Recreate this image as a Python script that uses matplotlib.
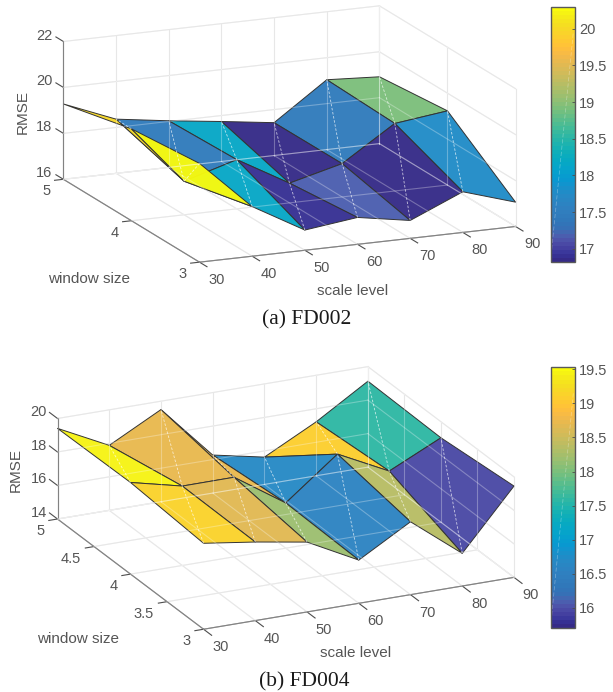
import numpy as np
import matplotlib
matplotlib.use('Agg')
import matplotlib.pyplot as plt
from matplotlib.cm import ScalarMappable
from matplotlib.colors import ListedColormap, Normalize
from mpl_toolkits.mplot3d import proj3d

W, H = 613, 692

parula_rgb = np.array([
    [0.2081, 0.1663, 0.5292], [0.2116, 0.1898, 0.5777], [0.2123, 0.2138, 0.6270], [0.2081, 0.2386, 0.6771],
    [0.1959, 0.2645, 0.7279], [0.1707, 0.2919, 0.7792], [0.1253, 0.3242, 0.8303], [0.0591, 0.3598, 0.8683],
    [0.0117, 0.3875, 0.8820], [0.0060, 0.4086, 0.8828], [0.0165, 0.4266, 0.8786], [0.0329, 0.4430, 0.8720],
    [0.0498, 0.4586, 0.8641], [0.0629, 0.4737, 0.8554], [0.0723, 0.4887, 0.8467], [0.0779, 0.5040, 0.8384],
    [0.0793, 0.5200, 0.8312], [0.0749, 0.5375, 0.8263], [0.0641, 0.5570, 0.8240], [0.0488, 0.5772, 0.8228],
    [0.0343, 0.5966, 0.8199], [0.0265, 0.6137, 0.8135], [0.0239, 0.6287, 0.8038], [0.0231, 0.6418, 0.7913],
    [0.0228, 0.6535, 0.7768], [0.0267, 0.6642, 0.7607], [0.0384, 0.6743, 0.7436], [0.0590, 0.6838, 0.7254],
    [0.0843, 0.6928, 0.7062], [0.1133, 0.7015, 0.6859], [0.1453, 0.7098, 0.6646], [0.1801, 0.7177, 0.6424],
    [0.2178, 0.7250, 0.6193], [0.2586, 0.7317, 0.5954], [0.3022, 0.7376, 0.5712], [0.3482, 0.7424, 0.5473],
    [0.3953, 0.7459, 0.5244], [0.4420, 0.7481, 0.5033], [0.4871, 0.7491, 0.4840], [0.5300, 0.7491, 0.4661],
    [0.5709, 0.7485, 0.4494], [0.6099, 0.7473, 0.4337], [0.6473, 0.7456, 0.4188], [0.6834, 0.7435, 0.4044],
    [0.7184, 0.7411, 0.3905], [0.7525, 0.7384, 0.3768], [0.7858, 0.7356, 0.3633], [0.8185, 0.7327, 0.3498],
    [0.8507, 0.7299, 0.3360], [0.8824, 0.7274, 0.3217], [0.9139, 0.7258, 0.3063], [0.9450, 0.7261, 0.2886],
    [0.9739, 0.7314, 0.2666], [0.9938, 0.7455, 0.2403], [0.9990, 0.7653, 0.2164], [0.9955, 0.7861, 0.1967],
    [0.9880, 0.8066, 0.1794], [0.9789, 0.8271, 0.1633], [0.9697, 0.8481, 0.1475], [0.9626, 0.8705, 0.1309],
    [0.9589, 0.8949, 0.1132], [0.9598, 0.9218, 0.0948], [0.9661, 0.9514, 0.0755], [0.9763, 0.9831, 0.0538],
])
# the reference went through a print colour conversion, its blues are duller
blue_w = np.clip((0.6 - parula_rgb[:, 1]) / 0.2, 0, 1) * np.clip((parula_rgb[:, 2] - 0.6) / 0.27, 0, 1)
parula_rgb[:, 0] += 0.2 * blue_w
parula_rgb[:, 1] += 0.05 * blue_w
parula_rgb[:, 2] -= 0.17 * blue_w
parula = ListedColormap(np.clip(parula_rgb, 0, 1))

scale_levels = [30, 40, 50, 60, 70, 80, 90]
windows = [3, 4, 5]

# rows: window 3, 4, 5
rmse_a = [
    [20.30, 18.16, 16.88, 17.17, 16.78, 17.77, 17.06],
    [20.00, 17.46, 18.14, 16.86, 17.45, 18.94, 19.23],
    [19.28, 18.36, 18.03, 17.74, 17.43, 19.04, 18.91],
]
rmse_b = [
    [19.13, 18.69, 18.17, 16.58, 18.35, 15.95, 19.45],
    [19.47, 18.74, 18.75, 16.70, 19.10, 17.57, 19.04],
    [19.41, 17.88, 19.50, 16.27, 15.63, 17.22, 19.13],
]

z_ticks_a = [16, 18, 20, 22]
z_ticks_b = [14, 16, 18, 20]
y_ticks_a = [3, 4, 5]
y_ticks_b = [3, 3.5, 4, 4.5, 5]
cbar_ticks_a = [17, 17.5, 18, 18.5, 19, 19.5, 20]
cbar_ticks_b = [16, 16.5, 17, 17.5, 18, 18.5, 19, 19.5]

TXT = '#555555'
AX = '#4d4d4d'
GRID = '#dedede'
SANS = 'Liberation Sans'

plt.rcParams['font.family'] = SANS
fig = plt.figure(figsize=(W / 100, H / 100), dpi=100)


def project_px(ax, x, y, z):
    px, py, _ = proj3d.proj_transform(x, y, z, ax.get_proj())
    return ax.transData.transform((px, py))


def fit_axes(ax, aspect, a_from, a_to, p_from, p_to):
    # scale and shift the 3d box so two corners land where they are in the reference
    zoom = 1.0
    ax.set_box_aspect(aspect, zoom=zoom)
    for _ in range(3):
        fig.canvas.draw()
        p0 = project_px(ax, *a_from)
        p1 = project_px(ax, *a_to)
        want = np.array([p_to[0] - p_from[0], p_from[1] - p_to[1]])
        zoom *= np.hypot(*want) / np.hypot(*(p1 - p0))
        ax.set_box_aspect(aspect, zoom=zoom)
        fig.canvas.draw()
        p0 = project_px(ax, *a_from)
        pos = ax.get_position()
        dx = (p_from[0] - p0[0]) / W
        dy = ((H - p_from[1]) - p0[1]) / H
        ax.set_position([pos.x0 + dx, pos.y0 + dy, pos.width, pos.height])
    fig.canvas.draw()


def panel(rmse, z_ticks, y_ticks, cbar_ticks, elev, azim, zr, corner0, corner1, cbar_box, clim):
    x = np.array(scale_levels, dtype=float)
    y = np.array(windows, dtype=float)
    Z = np.array(rmse)
    X, Y = np.meshgrid(x, y)
    zmin, zmax = z_ticks[0], z_ticks[-1]
    xmin, xmax = x[0], x[-1]
    ymin, ymax = y[0], y[-1]

    ax = fig.add_axes([0.05, 0.05, 700 / W, 700 / H], projection='3d', proj_type='ortho')
    ax.computed_zorder = False
    ax.view_init(elev=elev, azim=azim)
    ax.set_xticks([])
    ax.set_yticks([])
    ax.set_zticks([])
    ax.set_xlim(xmin, xmax, view_margin=0)
    ax.set_ylim(ymin, ymax, view_margin=0)
    ax.set_zlim(zmin, zmax, view_margin=0)
    ax.set_axis_off()
    ax.patch.set_alpha(0)

    # walls and floor grid
    grid_lines = []
    for v in x:
        grid_lines.append(([v, v], [ymax, ymax], [zmin, zmax]))
        grid_lines.append(([v, v], [ymin, ymax], [zmin, zmin]))
    for v in y_ticks:
        grid_lines.append(([xmax, xmax], [v, v], [zmin, zmax]))
        grid_lines.append(([xmin, xmax], [v, v], [zmin, zmin]))
    for v in z_ticks:
        grid_lines.append(([xmin, xmax], [ymax, ymax], [v, v]))
        grid_lines.append(([xmax, xmax], [ymin, ymax], [v, v]))
    for gx, gy, gz in grid_lines:
        ax.plot(gx, gy, gz, color=GRID, lw=0.8, zorder=1, clip_on=False)
        ax.plot(gx, gy, gz, color='white', lw=0.8, alpha=0.3, zorder=4, clip_on=False)

    # axis lines and ticks
    ax.plot([xmin, xmax], [ymin, ymin], [zmin, zmin], color=AX, lw=0.8, zorder=2, clip_on=False)
    ax.plot([xmin, xmin], [ymin, ymax], [zmin, zmin], color=AX, lw=0.8, zorder=2, clip_on=False)
    ax.plot([xmin, xmin], [ymax, ymax], [zmin, zmax], color=AX, lw=0.8, zorder=2, clip_on=False)
    ylen = (ymax - ymin) * 0.055
    xlen = (xmax - xmin) * 0.028
    for v in x:
        ax.plot([v, v], [ymin, ymin - ylen], [zmin, zmin], color=AX, lw=0.8, zorder=2, clip_on=False)
    for v in y_ticks:
        ax.plot([xmin - xlen, xmin], [v, v], [zmin, zmin], color=AX, lw=0.8, zorder=2, clip_on=False)
    for v in z_ticks:
        ax.plot([xmin, xmin], [ymax, ymax + ylen], [v, v], color=AX, lw=0.8, zorder=2, clip_on=False)

    # each facet takes the colour of its lowest corner, as matlab surf does
    norm = Normalize(clim[0], clim[1])
    face = parula(norm(Z[:-1, :-1]))
    face[..., 3] = 0.96
    surf = ax.plot_surface(X, Y, Z, facecolors=face, rstride=1, cstride=1, shade=False, zorder=3, linewidth=0.7)
    surf.set_edgecolor('#333333')
    surf.set_linewidth(0.7)

    # facet diagonals show up as broken white lines in the reference
    for j in range(Z.shape[0] - 1):
        for i in range(Z.shape[1] - 1):
            ax.plot([x[i], x[i + 1]], [y[j], y[j + 1]], [Z[j, i], Z[j + 1, i + 1]], color='white',
                    lw=0.6, ls=(0, (3, 2)), alpha=0.7, zorder=5, clip_on=False)

    fit_axes(ax, (1, 1, zr), (xmin, ymax, zmin), (xmax, ymin, zmin), corner0, corner1)

    # tick labels go on after the fit, next to the projected tick positions
    def tick_label(point, dx, dy, v, ha):
        p = project_px(ax, *point)
        fig.text((p[0] + dx) / W, (p[1] + dy) / H, f'{v:g}', ha=ha, va='center', color=TXT, fontsize=10.5)

    for v in x:
        tick_label((v, ymin, zmin), 17, -18, v, 'center')
    for v in y_ticks:
        tick_label((xmin, v, zmin), -13, -12, v, 'right')
    for v in z_ticks:
        tick_label((xmin, ymax, v), -19, 6, v, 'center')

    l, t, r, b = cbar_box
    cax = fig.add_axes([l / W, 1 - b / H, (r - l) / W, (b - t) / H])
    cb = fig.colorbar(ScalarMappable(norm=norm, cmap=parula), cax=cax)
    cb.set_ticks(cbar_ticks)
    cb.set_ticklabels([f'{v:g}' for v in cbar_ticks])
    cb.outline.set_edgecolor('#595959')
    cb.outline.set_linewidth(1.0)
    cax.tick_params(axis='y', direction='in', length=2.5, width=0.6, color=AX, labelcolor=TXT,
                    labelsize=10.5, pad=3)
    cax.plot([0.03, 0.93], [0.05, 0.9], transform=cax.transAxes, color='white', lw=0.5,
             ls=(0, (6, 3)), alpha=0.35)


panel(rmse_a, z_ticks_a, y_ticks_a, cbar_ticks_a, 15.2, -113.3, 0.415,
      (63.4, 179.3), (515.5, 226.7), (551, 6.7, 575, 262), (16.82, 20.3))
panel(rmse_b, z_ticks_b, y_ticks_b, cbar_ticks_b, 20.8, -115.2, 0.3134,
      (57.5, 519), (514, 577.3), (551, 367.3, 575, 628.3), (15.70, 19.53))


def px_text(x, y, s, **kw):
    fig.text(x / W, 1 - y / H, s, ha='center', va='center', **kw)


px_text(22.4, 112, 'RMSE', rotation=90, color=TXT, fontsize=11)
px_text(88.8, 279, 'window size', color=TXT, fontsize=11)
px_text(353, 291, 'scale level', color=TXT, fontsize=11)
px_text(15.5, 470, 'RMSE', rotation=90, color=TXT, fontsize=11)
px_text(78.5, 639, 'window size', color=TXT, fontsize=11)
px_text(356, 652.7, 'scale level', color=TXT, fontsize=11)
px_text(307, 320, '(a) FD002', family='Liberation Serif', color='#1a1a1a', fontsize=15.5)
px_text(304, 682, '(b) FD004', family='Liberation Serif', color='#1a1a1a', fontsize=15.5)

fig.savefig('out.png', dpi=100)
